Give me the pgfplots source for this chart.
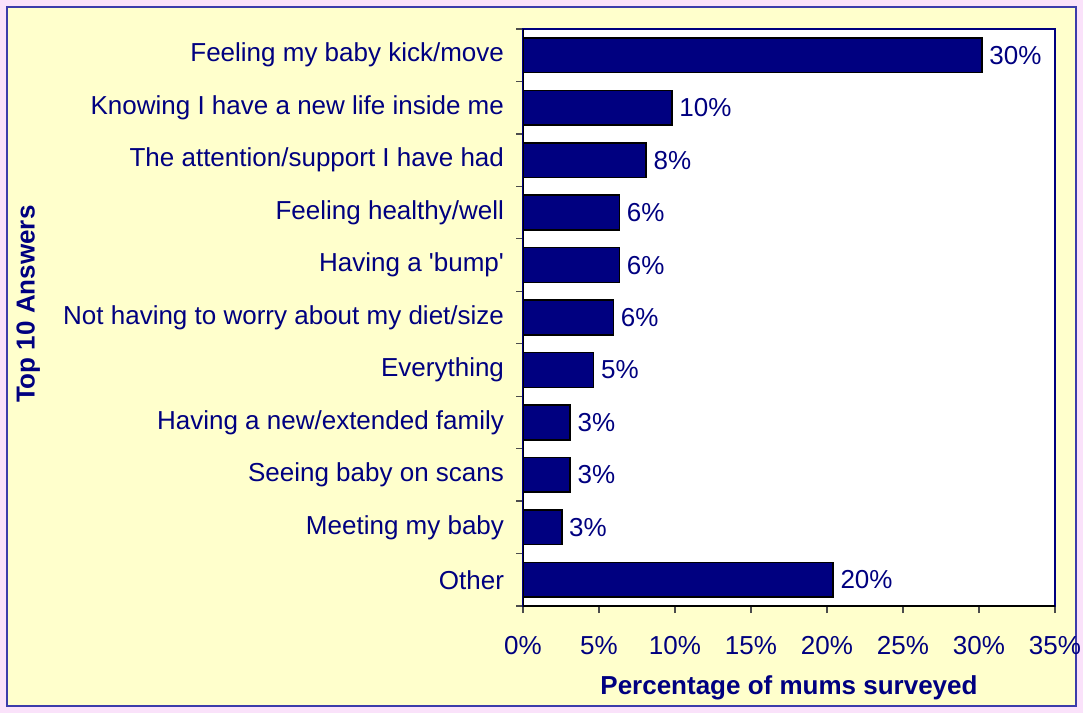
\documentclass[border=0pt]{standalone}
\usepackage{pgfplots}
\usepackage{pgfplotstable}
\pgfplotsset{compat=1.18}
\usepackage{fontspec}
\setmainfont{Liberation Sans}
\definecolor{navyc}{RGB}{0,0,128}
\definecolor{panel}{RGB}{255,255,204}
\definecolor{pinkbg}{RGB}{250,226,250}
\definecolor{borderc}{RGB}{60,60,170}

\pgfplotstableread{
y x
0 30.2
1 9.8
2 8.1
3 6.35
4 6.35
5 5.95
6 4.65
7 3.1
8 3.1
9 2.55
10 20.4
}\datatable

\begin{document}
\begin{tikzpicture}
\useasboundingbox (0,0) rectangle (541.5bp,356.5bp);
\fill[pinkbg] (0,0) rectangle (541.5bp,356.5bp);
\filldraw[fill=panel, draw=borderc, line width=1bp] (3.5bp,3.5bp) rectangle (538bp,353bp);
\begin{axis}[
  at={(261.5bp,53.5bp)}, anchor=south west,
  scale only axis,
  width=266bp, height=288.5bp,
  xbar, bar width=17.35bp, bar shift=0pt,
  xmin=0, xmax=35,
  ymin=-0.5, ymax=10.5,
  y dir=reverse,
  font=\fontsize{13bp}{15bp}\selectfont,
  /pgf/number format/assume math mode=true,
  axis background/.style={fill=white},
  axis line style={draw=navyc, line width=0.8bp},
  xtick={0,5,...,35},
  xticklabel={\pgfmathprintnumber{\tick}\%},
  xticklabel style={anchor=center, yshift=-16.5bp, text=navyc},
  ytick={0,...,10},
  yticklabels={Feeling my baby kick/move,Knowing I have a new life inside me,The attention/support I have had,Feeling healthy/well,Having a \textquotesingle bump\textquotesingle,Not having to worry about my diet/size,Everything,Having a new/extended family,Seeing baby on scans,Meeting my baby,Other},
  yticklabel style={anchor=east, xshift=-2.5bp, text=navyc},
  major y tick style={draw=none},
  minor ytick={-0.5,0.5,...,10.5},
  minor y tick style={draw=black!70, line width=0.6bp},
  minor tick length=3.5bp,
  major tick length=3.5bp,
  major x tick style={draw=black!70, line width=0.6bp},
  tick pos=left,
  tick align=outside,
  xlabel={\bfseries Percentage of mums surveyed},
  ylabel={\bfseries Top 10 Answers},
  xlabel style={at={(axis description cs:0.5,-0.142)}, anchor=center, text=navyc},
  ylabel style={at={(axis description cs:-0.930,0.523)}, anchor=center, text=navyc},
  nodes near coords={\pgfmathprintnumber[fixed,precision=0]{\pgfplotspointmeta}\%},
  point meta=x,
  every node near coord/.append style={anchor=west, text=navyc, font=\fontsize{13bp}{15bp}\selectfont},
]
\addplot[fill=navyc, draw=black, line width=0.8bp] table[x=x, y=y] {\datatable};
\draw[black, line width=1bp] (axis description cs:0,0) -- (axis description cs:0,1);
\draw[black, line width=1bp] (axis description cs:0,0) -- (axis description cs:1,0);
\end{axis}
\end{tikzpicture}
\end{document}
